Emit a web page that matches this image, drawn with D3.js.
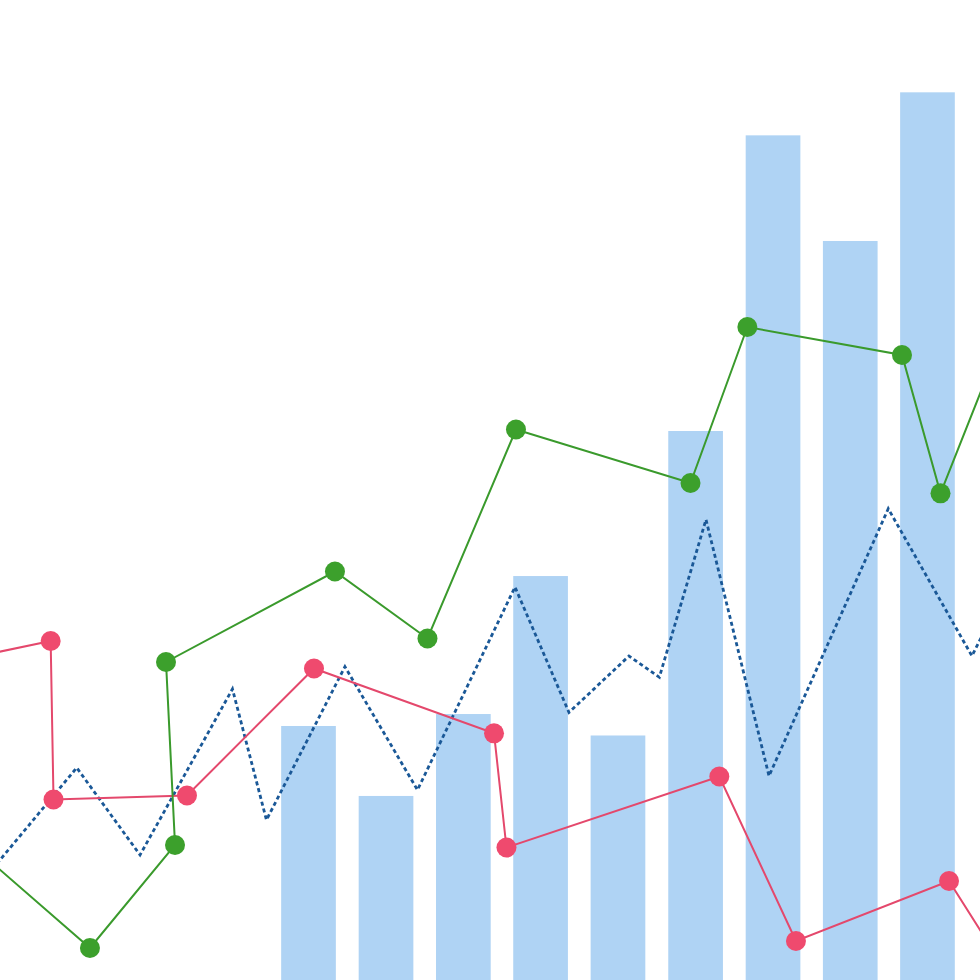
<!DOCTYPE html>
<html>
<head>
<meta charset="utf-8">
<script src="https://cdn.jsdelivr.net/npm/d3@7"></script>
<style>
  html, body { margin: 0; padding: 0; background: #ffffff; overflow: hidden; }
  svg { display: block; }
</style>
</head>
<body>
<svg id="chart" width="980" height="980"></svg>
<script>
// ---- data (values in chart units, 0..100 on both axes) ----
const barX      = [31.48, 39.39, 47.28, 55.16, 63.06, 70.98, 78.88, 86.76, 94.64];
const barValues = [25.92, 18.78, 27.14, 41.22, 24.95, 56.02, 86.19, 75.41, 90.58];
const barWidthUnits = 5.58;

const greenX = [-4.08, 9.18, 17.86, 16.94, 34.18, 43.62, 52.65, 70.46, 76.26, 92.04, 95.97, 103.06];
const greenY = [14.80, 3.27, 13.78, 32.45, 41.68, 34.85, 56.17, 50.71, 66.63, 63.78, 49.66, 67.55];

const redX = [-4.08, 5.17, 5.46, 19.08, 32.04, 50.41, 51.68, 73.40, 81.22, 96.84, 103.06];
const redY = [32.65, 34.59, 18.42, 18.83, 31.79, 25.17, 13.52, 20.77, 3.98, 10.10, 0.31];

const blueX = [-3.06, 7.83, 14.29, 23.72, 27.19, 35.20, 42.60, 52.55, 58.06, 64.18, 67.28, 72.04, 78.47, 90.64, 99.18, 103.06];
const blueY = [8.57, 21.66, 12.76, 29.69, 16.33, 31.97, 19.39, 40.10, 27.30, 33.06, 30.89, 46.98, 20.82, 48.09, 33.06, 40.82];

// ---- drawing ----
const W = 980, H = 980;
const svg = d3.select("#chart");
const x = d3.scaleLinear().domain([0, 100]).range([0, W]);
const y = d3.scaleLinear().domain([0, 100]).range([H, 0]);

const bw = x(barWidthUnits) - x(0);
svg.append("g").selectAll("rect")
  .data(barValues)
  .join("rect")
  .attr("x", (d, i) => x(barX[i]) - bw / 2)
  .attr("y", d => y(d))
  .attr("width", bw)
  .attr("height", d => y(0) - y(d) + 5)
  .attr("fill", "#afd3f4");

const line = d3.line().x(d => x(d[0])).y(d => y(d[1]));
const zip = (xs, ys) => xs.map((v, i) => [v, ys[i]]);

// blue dotted
svg.append("path")
  .datum(zip(blueX, blueY))
  .attr("d", line)
  .attr("fill", "none")
  .attr("stroke", "#1a5897")
  .attr("stroke-width", 2.8)
  .attr("stroke-dasharray", "4,3")
  .attr("stroke-linejoin", "miter");

// red series
const red = zip(redX, redY);
svg.append("path")
  .datum(red)
  .attr("d", line)
  .attr("fill", "none")
  .attr("stroke", "#e4486c")
  .attr("stroke-width", 2);
svg.append("g").selectAll("circle")
  .data(red).join("circle")
  .attr("cx", d => x(d[0])).attr("cy", d => y(d[1]))
  .attr("r", 10).attr("fill", "#ef4a6e");

// green series
const green = zip(greenX, greenY);
svg.append("path")
  .datum(green)
  .attr("d", line)
  .attr("fill", "none")
  .attr("stroke", "#3a9a2c")
  .attr("stroke-width", 2);
svg.append("g").selectAll("circle")
  .data(green).join("circle")
  .attr("cx", d => x(d[0])).attr("cy", d => y(d[1]))
  .attr("r", 10).attr("fill", "#3ca02c");
</script>
</body>
</html>
